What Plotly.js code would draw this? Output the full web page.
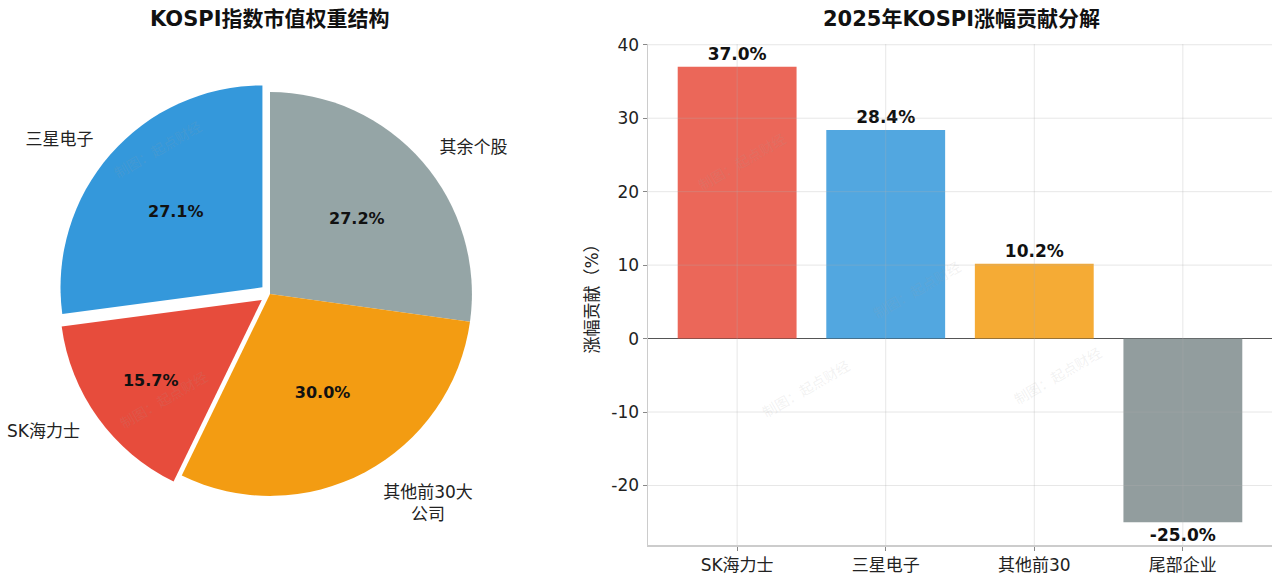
<!DOCTYPE html>
<html>
<head>
<meta charset="utf-8">
<script src="https://cdn.plot.ly/plotly-3.0.1.min.js"></script>
<style>html,body{margin:0;padding:0;background:#fff;}#chart{width:1280px;height:579px;}</style>
</head>
<body>
<div id="chart"></div>
<script>
// ---- data (pie listed clockwise from 12 o'clock) ----
var pieLabels = ["其余个股", "其他前30大<br>公司", "SK海力士", "三星电子"];
var pieValues = [27.2, 30.0, 15.7, 27.1];
var pieColors = ["#95a5a6", "#f39c12", "#e74c3c", "#3498db"];
var piePull = [0, 0, 0.05, 0.05];

var barCategories = ["SK海力士", "三星电子", "其他前30", "尾部企业"];
var barValues = [37.0, 28.4, 10.2, -25.0];
var barColors = ["rgba(231,76,60,0.85)", "rgba(52,152,219,0.85)", "rgba(243,156,18,0.85)", "rgba(127,140,141,0.85)"];
var yTicks = [-20, -10, 0, 10, 20, 30, 40];

var FONT = "DejaVu Sans, Noto Sans CJK SC, sans-serif";

var pieDomain = {x: [0.0453, 0.3766], y: [0.1261, 0.8584]};
// label ring: 1.08x the pie radius, same centre
var labelScale = 1.08;
var labelPull = piePull.map(function(p){ return p / labelScale; });
var cx = (pieDomain.x[0] + pieDomain.x[1]) / 2, cy = (pieDomain.y[0] + pieDomain.y[1]) / 2;
var hx = (pieDomain.x[1] - pieDomain.x[0]) / 2 / 1.05 * labelScale * (1 + Math.max.apply(null, labelPull));
var hy = (pieDomain.y[1] - pieDomain.y[0]) / 2 / 1.05 * labelScale * (1 + Math.max.apply(null, labelPull));
var labelDomain = {x: [cx - hx, cx + hx], y: [cy - hy, cy + hy]};

var piePct = {
  type: "pie", values: pieValues, labels: pieLabels, sort: false,
  direction: "clockwise", rotation: 0, pull: piePull,
  marker: {colors: pieColors, line: {width: 0}},
  textposition: "inside", insidetextorientation: "horizontal",
  texttemplate: "<b>%{value:.1f}%</b>",
  textfont: {family: FONT, size: 16, color: "#111"},
  domain: pieDomain,
  showlegend: false, hoverinfo: "label+value"
};
var pieLab = {
  type: "pie", values: pieValues, labels: pieLabels, sort: false,
  direction: "clockwise", rotation: 0, pull: labelPull,
  marker: {colors: ["rgba(0,0,0,0)","rgba(0,0,0,0)","rgba(0,0,0,0)","rgba(0,0,0,0)"], line: {width: 0}},
  textposition: "outside", texttemplate: "%{label}",
  outsidetextfont: {family: FONT, size: 17, color: "#222"},
  domain: labelDomain,
  showlegend: false, hoverinfo: "skip", automargin: false
};

var bars = {
  type: "bar", x: barCategories, y: barValues, xaxis: "x", yaxis: "y",
  width: 0.8,
  marker: {color: barColors, line: {width: 0}},
  text: barValues.map(function(v){ return "<b>" + v.toFixed(1) + "%</b>"; }),
  textposition: "outside", cliponaxis: false,
  textfont: {family: FONT, size: 17, color: "#111"},
  showlegend: false, hoverinfo: "x+y"
};

var shapes = [];
yTicks.forEach(function(t){
  if (t === 0) return;
  shapes.push({type: "line", layer: "above", xref: "x domain", x0: 0, x1: 1, yref: "y", y0: t, y1: t,
    line: {color: "rgba(176,176,176,0.3)", width: 1}});
});
barCategories.forEach(function(c){
  shapes.push({type: "line", layer: "above", xref: "x", x0: c, x1: c, yref: "y domain", y0: 0, y1: 1,
    line: {color: "rgba(176,176,176,0.3)", width: 1}});
});

var wm = "制图：起点财经";
var wmPos = [[0.085, 0.80], [0.09, 0.25], [0.63, 0.27], [0.865, 0.35], [0.755, 0.50], [0.58, 0.78]];
var annotations = [
  {text: "<b>KOSPI指数市值权重结构</b>", x: 0.211, y: 0.968, xref: "paper", yref: "paper",
   showarrow: false, font: {family: FONT, size: 21, color: "#111"}, xanchor: "center", yanchor: "middle"},
  {text: "<b>2025年KOSPI涨幅贡献分解</b>", x: 0.751, y: 0.968, xref: "paper", yref: "paper",
   showarrow: false, font: {family: FONT, size: 21, color: "#111"}, xanchor: "center", yanchor: "middle"}
];
wmPos.forEach(function(p){
  annotations.push({text: wm, x: p[0], y: p[1], xref: "paper", yref: "paper", showarrow: false,
    textangle: -30, font: {family: FONT, size: 14, color: "rgba(160,160,160,0.15)"}});
});

var layout = {
  width: 1280, height: 579,
  margin: {l: 0, r: 0, t: 0, b: 0},
  paper_bgcolor: "#fff", plot_bgcolor: "#fff",
  font: {family: FONT, color: "#222"},
  xaxis: {domain: [0.50625, 0.99375], range: [-0.6, 3.6], type: "category",
    showgrid: false, showline: true, linecolor: "#cccccc", linewidth: 1.5,
    ticks: "outside", ticklen: 4, tickcolor: "#888", zeroline: false,
    tickfont: {family: FONT, size: 17, color: "#222"}},
  yaxis: {domain: [0.0587, 0.924], range: [-28.1, 40.1],
    tickvals: yTicks, ticktext: yTicks.map(String),
    showgrid: false, showline: true, linecolor: "#cccccc", linewidth: 1.5,
    ticks: "outside", ticklen: 4, tickcolor: "#888",
    zeroline: true, zerolinecolor: "#555", zerolinewidth: 1.5,
    tickfont: {family: FONT, size: 17, color: "#222"},
    title: {text: "涨幅贡献（%）", font: {family: FONT, size: 17, color: "#222"}, standoff: 8}},
  shapes: shapes,
  annotations: annotations
};

Plotly.newPlot("chart", [piePct, pieLab, bars], layout, {displayModeBar: false, staticPlot: true});
</script>
</body>
</html>
